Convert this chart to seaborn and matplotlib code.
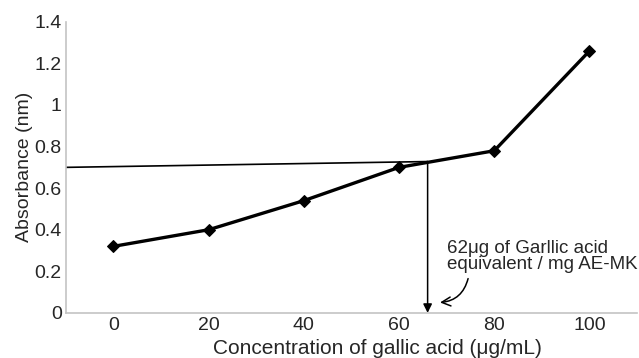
import matplotlib.pyplot as plt
import pandas as pd
import seaborn as sns

# Data
concentration = [0, 20, 40, 60, 80, 100]
absorbance = [0.32, 0.40, 0.54, 0.70, 0.78, 1.26]

# Reading lines (intercept)
read_x = [-10, 66]
read_y = [0.70, 0.728]

y_ticks = [0, 0.2, 0.4, 0.6, 0.8, 1, 1.2, 1.4]
y_tick_labels = ['0', '0.2', '0.4', '0.6', '0.8', '1', '1.2', '1.4']
x_ticks = [0, 20, 40, 60, 80, 100]

df = pd.DataFrame({'conc': concentration, 'abs': absorbance})

sns.set_style("white")
plt.rcParams['font.family'] = ['Liberation Sans', 'DejaVu Sans']

fig = plt.figure(figsize=(6.39, 3.58), dpi=100)
ax = fig.add_axes([0.103, 0.126, 0.894, 0.813])

sns.lineplot(data=df, x='conc', y='abs', ax=ax, color='black', linewidth=2.4,
             marker='D', markersize=6.5, markeredgecolor='black')

# horizontal reading line from y axis to the intercept
ax.plot(read_x, read_y, color='black', linewidth=1.2)
# vertical arrow down to x axis
ax.annotate('', xy=(read_x[1], 0), xytext=(read_x[1], read_y[1]),
            arrowprops=dict(arrowstyle='-|>', color='black', lw=1.1,
                            mutation_scale=13, shrinkA=0, shrinkB=0))

ax.text(70.0, 0.27, '62\u03bcg of Garllic acid\nequivalent / mg AE-MK',
        fontsize=13.5, ha='left', va='center', linespacing=0.95)
ax.annotate('', xy=(68.6, 0.05), xytext=(74.5, 0.165),
            arrowprops=dict(arrowstyle='->', color='black', lw=1.1,
                            connectionstyle='arc3,rad=-0.35',
                            mutation_scale=16, shrinkA=0, shrinkB=0))

ax.set_xlim(-10, 110)
ax.set_ylim(0, 1.4)
ax.set_xticks(x_ticks)
ax.set_yticks(y_ticks)
ax.set_yticklabels(y_tick_labels)
ax.tick_params(axis='both', length=0, labelsize=14, pad=3)
ax.set_xlabel('Concentration of gallic acid (\u03bcg/mL)', fontsize=15)
ax.xaxis.set_label_coords(0.545, -0.088)
ax.set_ylabel('Absorbance (nm)', fontsize=14, labelpad=1)

sns.despine(ax=ax)
for side in ['left', 'bottom']:
    ax.spines[side].set_color('#c4c4c4')
    ax.spines[side].set_linewidth(1.2)

fig.savefig('out.png', dpi=100)
